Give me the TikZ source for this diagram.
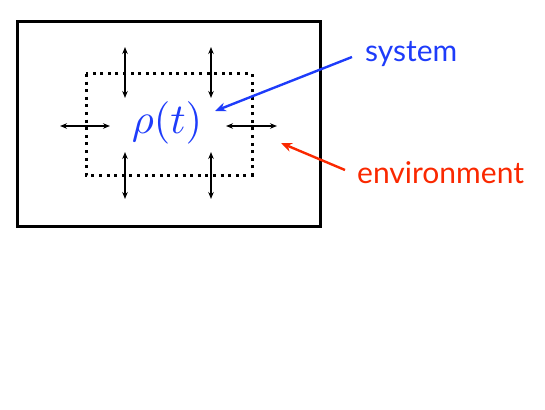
\documentclass[tikz,border=0pt]{standalone}
\usepackage{fontspec}
\setsansfont{Lato}
\usetikzlibrary{arrows.meta}
\definecolor{sysblue}{RGB}{30,60,250}
\definecolor{envred}{RGB}{250,40,0}
\begin{document}
\begin{tikzpicture}[x=1pt,y=-1pt,
  outerbox/.style={draw=black,line width=3pt},
  innerbox/.style={draw=black,line width=3pt,dash pattern=on 3pt off 4.6pt},
  flux/.style={{Stealth[length=7pt,width=5.5pt]}-{Stealth[length=7pt,width=5.5pt]},line width=1.4pt},
  pointer/.style={-{Stealth[length=11pt,width=9pt]},line width=2.4pt},
  lbl/.style={font=\sffamily\fontsize{30}{36}\selectfont,inner sep=0pt,anchor=base west}]
\useasboundingbox (0,0) rectangle (545,409);
\draw[outerbox] (17,22) rectangle (320,226);
\draw[innerbox] (86,74) rectangle (252,175);
\node[text=sysblue,scale=4.25,inner sep=0pt] (rho) at (167,123) {$\rho(t)$};
% vertical flux arrows
\coordinate (a1s) at (125,47); \coordinate (a1e) at (125,98);
\coordinate (a2s) at (211,47); \coordinate (a2e) at (211,98);
\coordinate (a3s) at (125,152); \coordinate (a3e) at (125,199);
\coordinate (a4s) at (211,152); \coordinate (a4e) at (211,199);
\coordinate (h1s) at (60,126); \coordinate (h1e) at (110,126);
\coordinate (h2s) at (226,126); \coordinate (h2e) at (277,126);
\draw[flux] (a1s) -- (a1e);
\draw[flux] (a2s) -- (a2e);
\draw[flux] (a3s) -- (a3e);
\draw[flux] (a4s) -- (a4e);
\draw[flux] (h1s) -- (h1e);
\draw[flux] (h2s) -- (h2e);
\node[lbl,text=sysblue] (sys) at (365,62) {system};
\node[lbl,text=envred] (env) at (357,183) {environment};
\coordinate (systail) at (352,57);
\coordinate (systip) at (215,111);
\coordinate (envtail) at (345,170);
\coordinate (envtip) at (281,143);
\draw[pointer,sysblue] (systail) -- (systip);
\draw[pointer,envred] (envtail) -- (envtip);
\end{tikzpicture}
\end{document}
